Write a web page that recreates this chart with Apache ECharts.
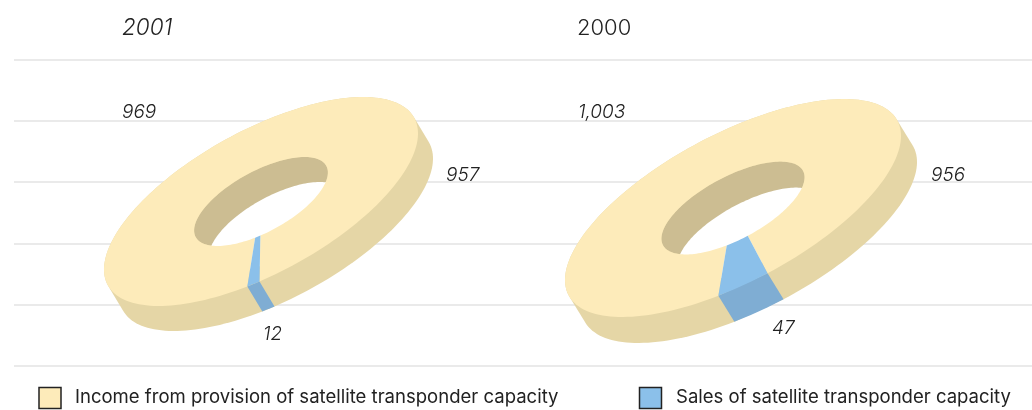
<!DOCTYPE html>
<html>
<head>
<meta charset="utf-8">
<style>html,body{margin:0;padding:0;background:#fff}#main{width:1032px;height:410px}</style>
<script src="https://cdn.jsdelivr.net/npm/echarts@6/dist/echarts.min.js"></script>
</head>
<body>
<div id="main"></div>
<script>
var years = ['2001', '2000'];
var sliceNames = ['Income from provision of satellite transponder capacity', 'Sales of satellite transponder capacity'];
var income = [957, 956];
var sales = [12, 47];
var totals = ['969', '1,003'];

var topColors = ['#fdebba', '#8bc0ea'];
var sideColors = ['#e5d6a6', '#7fadd3'];
var wallColor = '#ccbd92';
var titleFont = '300 22px Inter';
var titleFontItalic = 'italic 300 22.5px Inter';
var numFontItalic = 'italic 300 19px Inter';
var legendFont = '18.55px Inter';

// shape of each tilted ring: centre, axes of the ellipse, extrusion
var rings = [
	{cx: 261, cy: 201.5, ax: 157, ay: -68, by: 79.3, dx: 15, dy: 25},
	{cx: 733, cy: 208, ax: 168, ay: -72, by: 81.8, dx: 16, dy: 26}
];
var holeRatio = 0.426;
var startDeg = 95;
var titlePos = [[122, 28], [577, 28]];
var totalPos = [[122, 112], [578, 112]];
var incomePos = [[446, 175], [931, 175]];
var salesPos = [[263, 334], [772, 328]];

function pt(r, deg, k, shift) {
	var t = deg * Math.PI / 180;
	var c = Math.cos(t), s = Math.sin(t);
	return [
		r.cx + k * r.ax * c + (shift ? r.dx : 0),
		r.cy + k * (r.ay * c + r.by * s) + (shift ? r.dy : 0)
	];
}
function arc(r, from, to, k, shift) {
	var out = [], n = Math.max(2, Math.ceil(Math.abs(to - from) / 2));
	for (var i = 0; i <= n; i++) out.push(pt(r, from + (to - from) * i / n, k, shift));
	return out;
}
// convex hull, the side wall of a slice is the hull of its arc and the shifted arc
function hull(points) {
	var p = points.slice().sort(function (a, b) { return a[0] - b[0] || a[1] - b[1]; });
	function half(list) {
		var h = [];
		list.forEach(function (q) {
			while (h.length > 1) {
				var a = h[h.length - 2], b = h[h.length - 1];
				if ((b[0] - a[0]) * (q[1] - a[1]) - (b[1] - a[1]) * (q[0] - a[0]) <= 0) h.pop();
				else break;
			}
			h.push(q);
		});
		h.pop();
		return h;
	}
	return half(p).concat(half(p.slice().reverse()));
}
function poly(points, fill, z2) {
	return {type: 'polygon', z2: z2, shape: {points: points}, style: {fill: fill, stroke: null}};
}
function renderSlice(donut) {
	return function (params, api) {
		var r = rings[donut];
		var vals = [income[donut], sales[donut]];
		var total = vals[0] + vals[1];
		var i = params.dataIndex;
		var from = startDeg + (i ? vals[0] / total * 360 : 0);
		var to = from + api.value(0) / total * 360;
		var kids = [];
		if (i === 0) {
			kids.push(poly(arc(r, 0, 360, holeRatio, false), wallColor, 3));
			kids.push(poly(arc(r, 0, 360, holeRatio, true), '#fff', 4));
		}
		kids.push(poly(hull(arc(r, from, to, 1, false).concat(arc(r, from, to, 1, true))), sideColors[i], 1 + i));
		kids.push(poly(arc(r, from, to, 1, false).concat(arc(r, to, from, holeRatio, false)), topColors[i], 5));
		return {type: 'group', children: kids};
	};
}
function label(text, pos, font) {
	return {
		type: 'text', x: pos[0], y: pos[1], z: 10,
		style: {text: text, fill: '#222', font: font, textVerticalAlign: 'middle'}
	};
}
function swatch(x, color) {
	return {type: 'rect', z: 10, shape: {x: x, y: 387.5, width: 22, height: 21}, style: {fill: color, stroke: '#222', lineWidth: 1.5}};
}

var graphics = [
	label(years[0], titlePos[0], titleFontItalic),
	label(years[1], titlePos[1], titleFont),
	swatch(39, topColors[0]),
	swatch(639.5, topColors[1]),
	label(sliceNames[0], [75, 397], legendFont),
	label(sliceNames[1], [676, 397], legendFont)
];
for (var d = 0; d < 2; d++) {
	graphics.push(label(totals[d], totalPos[d], numFontItalic));
	graphics.push(label(String(income[d]), incomePos[d], numFontItalic));
	graphics.push(label(String(sales[d]), salesPos[d], numFontItalic));
}

var myChart = echarts.init(document.getElementById('main'));
myChart.setOption({
	animation: false,
	grid: {left: 14, right: 0, top: 59.6, bottom: 44},
	xAxis: {type: 'value', show: false, min: 0, max: 1},
	yAxis: {
		type: 'value', min: 0, max: 5, interval: 1,
		axisLine: {show: false}, axisTick: {show: false}, axisLabel: {show: false},
		splitLine: {lineStyle: {color: '#e3e3e3', width: 1.5}}
	},
	graphic: graphics,
	series: [
		{type: 'custom', name: years[0], coordinateSystem: 'none', renderItem: renderSlice(0), data: [income[0], sales[0]]},
		{type: 'custom', name: years[1], coordinateSystem: 'none', renderItem: renderSlice(1), data: [income[1], sales[1]]}
	]
});
</script>
</body>
</html>
